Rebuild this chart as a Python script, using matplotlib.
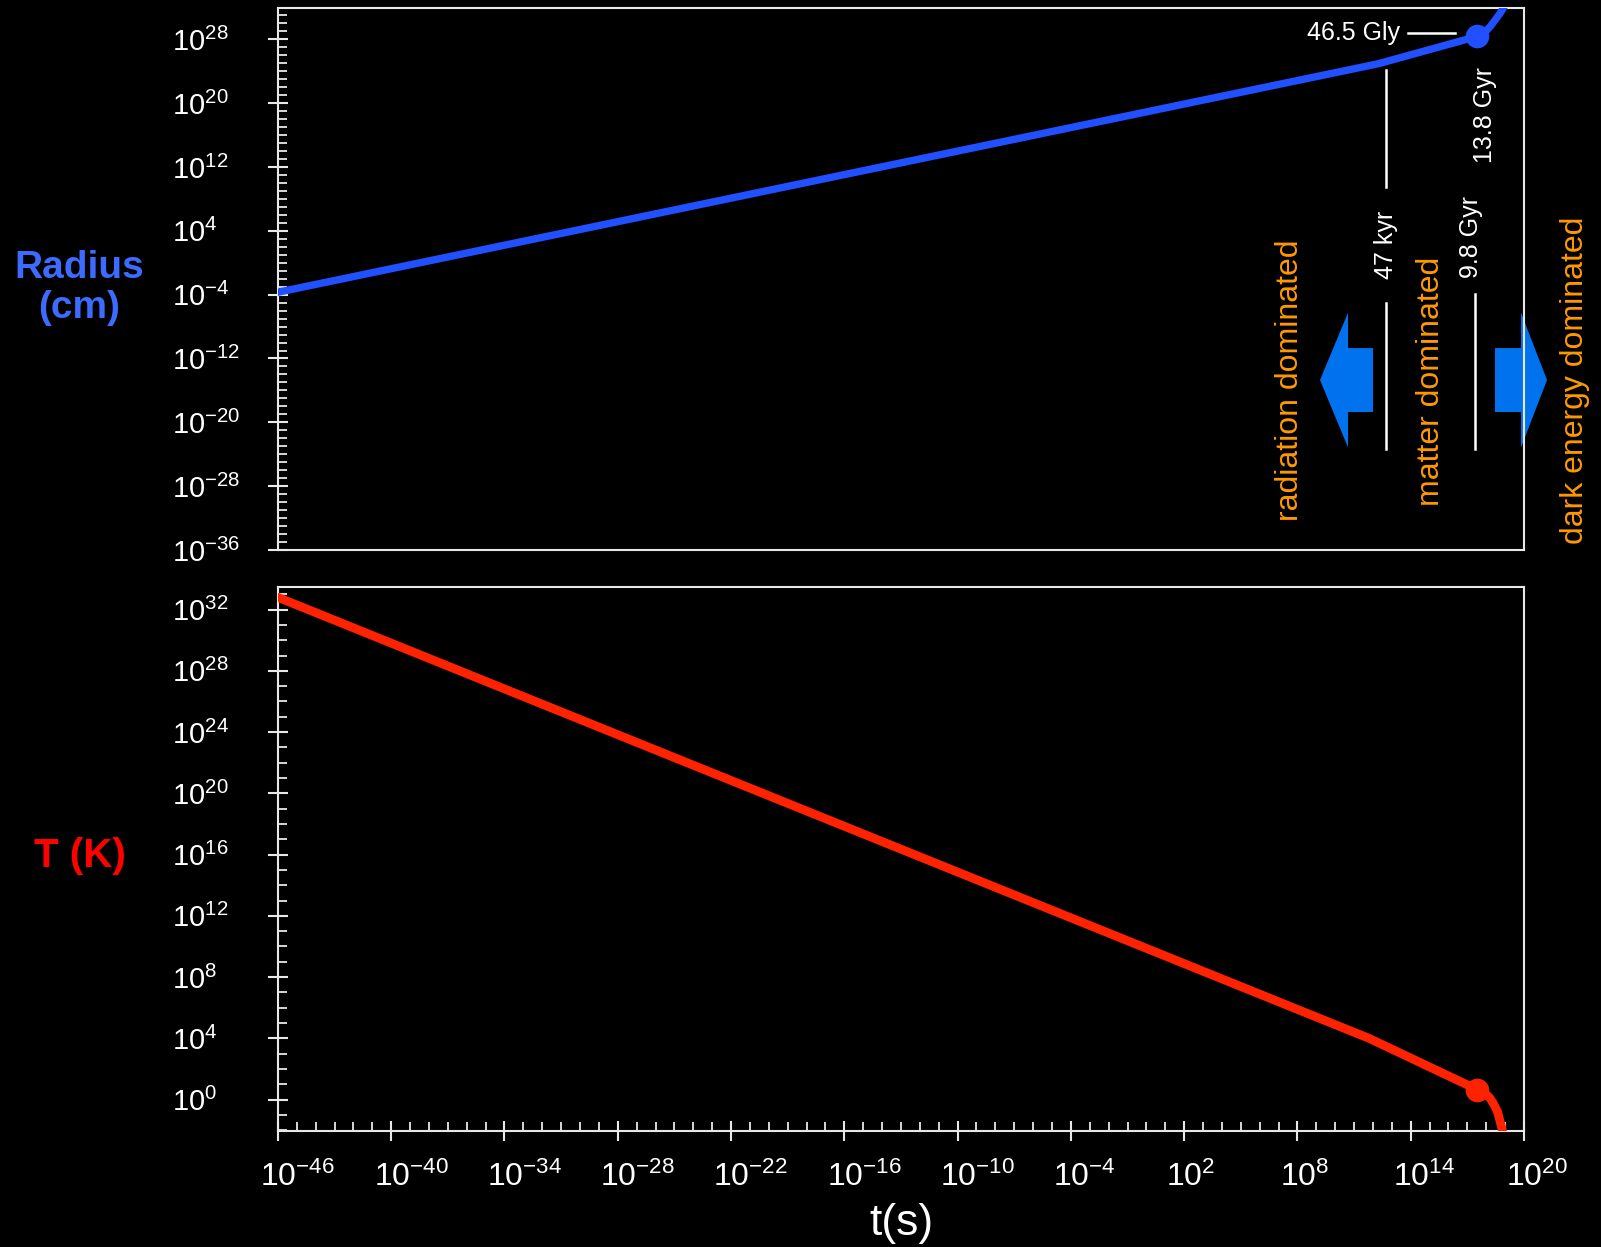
import numpy as np
import matplotlib.pyplot as plt
import matplotlib.transforms as mtransforms
from matplotlib.ticker import FixedLocator, FuncFormatter, NullFormatter
from matplotlib.patches import FancyArrow

plt.rcParams['font.family'] = ['Liberation Sans', 'DejaVu Sans']
plt.rcParams['mathtext.fontset'] = 'custom'
plt.rcParams['mathtext.rm'] = 'Liberation Sans'
plt.rcParams['mathtext.it'] = 'Liberation Sans:italic'
plt.rcParams['mathtext.bf'] = 'Liberation Sans:bold'

### DATOS (log10) ###

# radio del universo: log10 t(s), log10 R(cm)
log_t_radio = [-46.0, 12.28, 17.52, 17.8, 18.0, 18.25, 18.5, 18.75, 19.0]
log_radio = [-3.7, 24.93, 28.35, 28.7, 29.05, 29.7, 30.5, 31.3, 32.3]

# temperatura: log10 t(s), log10 T(K)
log_t_temp = [-46.0, 11.8, 17.52, 17.9, 18.2, 18.4, 18.6, 18.75, 18.9]
log_temp = [32.8, 4.0, 0.66, 0.45, 0.1, -0.3, -0.8, -1.5, -2.2]

# hoy (13.8 Gyr)
log_t_hoy = 17.52
log_radio_hoy = 28.35
log_temp_hoy = 0.66

# cambios de epoca
log_t_igualdad = 12.68   # 47 kyr
log_t_energia = 17.39    # 9.8 Gyr

ticks_radio = np.arange(-36, 29, 8)
ticks_temp = np.arange(0, 33, 4)
ticks_t = np.arange(-46, 21, 6)

blanco = '#e8e8e8'
azul = '#2050ff'
rojo = '#ff2200'
naranja = '#ff9900'


def potencia(x, pos):
	return r'$10^{%d}$' % int(round(np.log10(x)))


def ejes(ax):
	ax.set_facecolor('black')
	ax.set_xscale('log')
	ax.set_yscale('log')
	for lado in ax.spines.values():
		lado.set_color(blanco)
		lado.set_linewidth(1.5)
	ax.yaxis.set_major_formatter(FuncFormatter(potencia))
	ax.yaxis.set_minor_formatter(NullFormatter())
	ax.xaxis.set_minor_formatter(NullFormatter())
	ax.tick_params(axis='y', which='major', direction='inout', length=14.4, width=1.5,
		colors=blanco, labelcolor='white', labelsize=21, pad=69)
	ax.tick_params(axis='y', which='minor', direction='in', length=6.5, width=1.3, colors=blanco)
	ax.tick_params(right=False, top=False)


fig = plt.figure(figsize=(16.01, 12.47), dpi=100, facecolor='black')
ax1 = fig.add_axes([0.1736, 0.5589, 0.7783, 0.4346])
ax2 = fig.add_axes([0.1736, 0.0930, 0.7783, 0.4362])

#### RADIO ####
ejes(ax1)
t_radio = 10.0 ** np.array(log_t_radio)
radio = 10.0 ** np.array(log_radio)
ax1.plot(t_radio, radio, color=azul, lw=5.3, solid_capstyle='round', zorder=5)
ax1.plot(10.0 ** log_t_hoy, 10.0 ** log_radio_hoy, 'o', color=azul, ms=16, zorder=6)

ax1.yaxis.set_major_locator(FixedLocator(10.0 ** ticks_radio))
ax1.yaxis.set_minor_locator(FixedLocator(10.0 ** np.arange(-36, 32)))
ax1.tick_params(axis='x', which='both', bottom=False, labelbottom=False)
ax1.set_xlim(1e-46, 1e20)
ax1.set_ylim(1e-36, 10.0 ** 31.9)

# lineas y etiquetas de las epocas
lw_b = 1.8
ax1.plot([10.0 ** 13.85, 10.0 ** 16.33], [10.0 ** 28.76] * 2, color='white', lw=lw_b)
ax1.text(10.0 ** 13.42, 10.0 ** 28.76, '46.5 Gly', color='white', fontsize=18, ha='right', va='center')
ax1.text(10.0 ** 17.92, 10.0 ** 18.5, '13.8 Gyr', color='white', fontsize=18, rotation=90,
	ha='center', va='center')

x_ig = 10.0 ** log_t_igualdad
ax1.plot([x_ig, x_ig], [10.0 ** 24.2, 10.0 ** 9.5], color='white', lw=lw_b)
ax1.plot([x_ig, x_ig], [10.0 ** -5.1, 10.0 ** -23.4], color='white', lw=lw_b)
ax1.text(x_ig, 10.0 ** 2.2, '47 kyr', color='white', fontsize=18, rotation=90, ha='center', va='center')

x_en = 10.0 ** log_t_energia
ax1.plot([x_en, x_en], [10.0 ** -3.9, 10.0 ** -23.4], color='white', lw=lw_b)
ax1.text(10.0 ** 17.18, 10.0 ** 3.2, '9.8 Gyr', color='white', fontsize=18, rotation=90,
	ha='center', va='center')

ax1.text(10.0 ** 7.63, 10.0 ** -14.7, 'radiation dominated', color=naranja, fontsize=23,
	rotation=90, ha='center', va='center')
ax1.text(10.0 ** 15.09, 10.0 ** -14.9, 'matter dominated', color=naranja, fontsize=23,
	rotation=90, ha='center', va='center')
ax1.text(10.0 ** 22.7, 10.0 ** -14.7, 'dark energy dominated', color=naranja, fontsize=23,
	rotation=90, ha='center', va='center')

# flechas
flecha_izq = FancyArrow(0.8788, 0.3137, -0.0425, 0, width=0.118, head_width=0.249, head_length=0.0225,
	length_includes_head=True, color='#0072ee', lw=0, transform=ax1.transAxes, clip_on=False, zorder=1)
flecha_der = FancyArrow(0.9767, 0.3137, 0.0418, 0, width=0.118, head_width=0.249, head_length=0.0209,
	length_includes_head=True, color='#0072ee', lw=0, transform=ax1.transAxes, clip_on=False, zorder=1)
ax1.add_patch(flecha_izq)
ax1.add_patch(flecha_der)

#### TEMPERATURA ####
ejes(ax2)
t_temp = 10.0 ** np.array(log_t_temp)
temp = 10.0 ** np.array(log_temp)
ax2.plot(t_temp, temp, color=rojo, lw=6.3, solid_capstyle='round', zorder=5)
ax2.plot(10.0 ** log_t_hoy, 10.0 ** log_temp_hoy, 'o', color=rojo, ms=16, zorder=6)

ax2.yaxis.set_major_locator(FixedLocator(10.0 ** ticks_temp))
ax2.yaxis.set_minor_locator(FixedLocator(10.0 ** np.arange(-2, 34)))
ax2.xaxis.set_major_locator(FixedLocator(10.0 ** ticks_t))
ax2.xaxis.set_minor_locator(FixedLocator(10.0 ** np.arange(-46, 21)))
ax2.xaxis.set_major_formatter(FuncFormatter(potencia))
ax2.tick_params(axis='x', which='major', direction='inout', length=14.4, width=1.5,
	colors=blanco, labelcolor='white', labelsize=23, pad=15)
ax2.tick_params(axis='x', which='minor', direction='in', length=6.5, width=1.3, colors=blanco)
ax2.set_xlim(1e-46, 1e20)
ax2.set_ylim(10.0 ** -2.05, 10.0 ** 33.47)

# etiquetas de los ejes alineadas a la izquierda, el "10" centrado en la marca
for ax in (ax1, ax2):
	for et in ax.get_yticklabels():
		et.set_horizontalalignment('left')
corrimiento = mtransforms.ScaledTranslation(-17.7 / 100, 0, fig.dpi_scale_trans)
for et in ax2.get_xticklabels():
	et.set_horizontalalignment('left')
	et.set_transform(et.get_transform() + corrimiento)

fig.text(79 / 1601, 1 - 288 / 1247, 'Radius\n(cm)', color='#3d6bff', fontsize=28, fontweight='bold',
	ha='center', va='center', linespacing=1.12)
fig.text(80 / 1601, 1 - 856 / 1247, 'T (K)', color='#ff0000', fontsize=29, fontweight='bold',
	ha='center', va='center')
fig.text(901 / 1601, 1 - 1223 / 1247, 't(s)', color='white', fontsize=32, ha='center', va='center')

plt.savefig('out.png', dpi=100, facecolor='black')
